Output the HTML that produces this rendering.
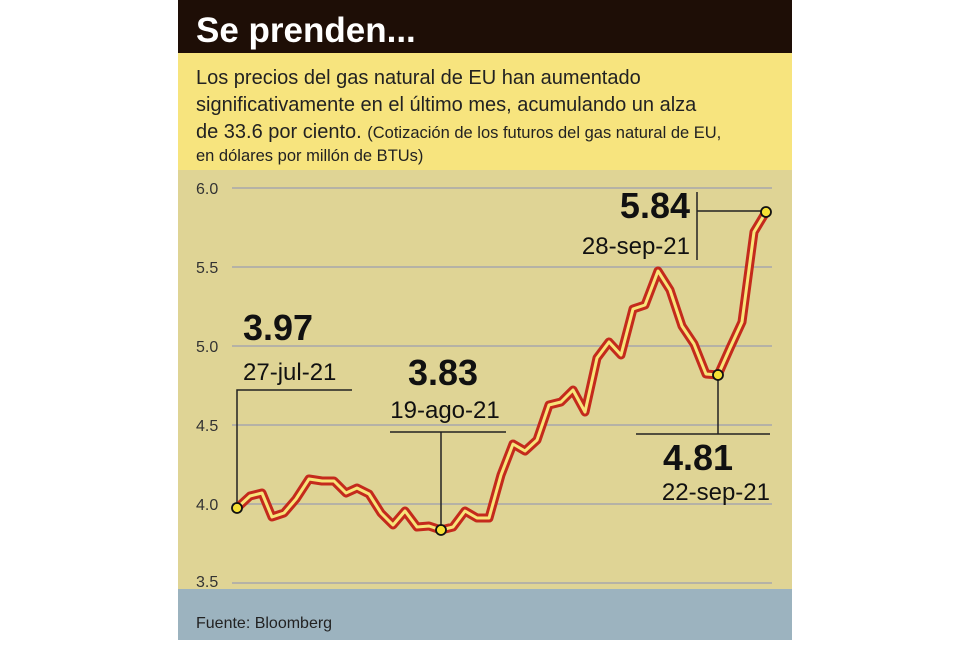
<!DOCTYPE html>
<html><head><meta charset="utf-8"><style>
body{margin:0;width:960px;height:640px;background:#fff;overflow:hidden;font-family:"Liberation Sans",sans-serif}
</style></head><body>
<svg width="960" height="640" viewBox="0 0 960 640" xmlns="http://www.w3.org/2000/svg" font-family="Liberation Sans, sans-serif">
<rect x="178" y="0" width="614" height="53" fill="#1e0e06"/>
<rect x="178" y="53" width="614" height="117" fill="#f7e47e"/>
<rect x="178" y="170" width="614" height="419" fill="#dfd495"/>
<rect x="178" y="589" width="614" height="51" fill="#9cb3bf"/>
<text x="196" y="42" font-size="35" font-weight="bold" fill="#fff">Se prenden...</text>
<g font-size="20" fill="#222">
<text x="196" y="84">Los precios del gas natural de EU han aumentado</text>
<text x="196" y="111">significativamente en el último mes, acumulando un alza</text>
<text x="196" y="138">de 33.6 por ciento. <tspan font-size="16.5">(Cotización de los futuros del gas natural de EU,</tspan></text>
<text x="196" y="161" font-size="16.5">en dólares por millón de BTUs)</text>
</g>
<g stroke="#b5b2a6" stroke-width="2">
<line x1="232" y1="188" x2="772" y2="188"/><line x1="232" y1="267" x2="772" y2="267"/>
<line x1="232" y1="346" x2="772" y2="346"/><line x1="232" y1="425" x2="772" y2="425"/>
<line x1="232" y1="504" x2="772" y2="504"/><line x1="232" y1="583" x2="772" y2="583"/>
</g>
<g font-size="16" fill="#333">
<text x="196" y="194">6.0</text><text x="196" y="273">5.5</text><text x="196" y="352">5.0</text>
<text x="196" y="431">4.5</text><text x="196" y="510">4.0</text><text x="196" y="587">3.5</text>
</g>
<g stroke="#222" stroke-width="1.5" fill="none">
<polyline points="352,390 237,390 237,508"/>
<polyline points="390,432 506,432"/><line x1="441" y1="432" x2="441" y2="530"/>
<line x1="697" y1="192" x2="697" y2="260"/><line x1="697" y1="211" x2="766" y2="211"/>
<line x1="636" y1="434" x2="770" y2="434"/><line x1="718" y1="375" x2="718" y2="434"/>
</g>
<g fill="#111">
<text x="243" y="340" font-size="36" font-weight="bold">3.97</text>
<text x="243" y="380" font-size="24">27-jul-21</text>
<text x="443" y="385" font-size="36" font-weight="bold" text-anchor="middle">3.83</text>
<text x="445" y="418" font-size="24" text-anchor="middle">19-ago-21</text>
<text x="690" y="218" font-size="36" font-weight="bold" text-anchor="end">5.84</text>
<text x="690" y="254" font-size="24" text-anchor="end">28-sep-21</text>
<text x="698" y="470" font-size="36" font-weight="bold" text-anchor="middle">4.81</text>
<text x="770" y="500" font-size="24" text-anchor="end">22-sep-21</text>
</g>
<g fill="none" stroke-linejoin="round" stroke-linecap="round">
<polyline stroke="#c42a1c" stroke-width="9" points="237,508 250,496 262,493 272,517 284,513 296,499 309,479 322,481 334,481 346,493 357,488 369,494 381,513 393,525 405,511 417,527 429,526 441,530 453,527 465,511 477,518 489,518 501,475 513,444 525,451 537,440 549,405 561,402 573,390 585,412 597,358 609,342 621,355 633,309 645,305 658,271 670,290 682,326 694,344 706,374 718,375 730,348 742,322 754,232 766,212"/>
<polyline stroke="#f8e47a" stroke-width="3" points="237,508 250,496 262,493 272,517 284,513 296,499 309,479 322,481 334,481 346,493 357,488 369,494 381,513 393,525 405,511 417,527 429,526 441,530 453,527 465,511 477,518 489,518 501,475 513,444 525,451 537,440 549,405 561,402 573,390 585,412 597,358 609,342 621,355 633,309 645,305 658,271 670,290 682,326 694,344 706,374 718,375 730,348 742,322 754,232 766,212"/>
</g>
<g fill="#f5e035" stroke="#111" stroke-width="1.8">
<circle cx="237" cy="508" r="5"/><circle cx="441" cy="530" r="5"/>
<circle cx="718" cy="375" r="5"/><circle cx="766" cy="212" r="5"/>
</g>
<text x="196" y="628" font-size="16" fill="#222">Fuente: Bloomberg</text>
</svg>
</body></html>
